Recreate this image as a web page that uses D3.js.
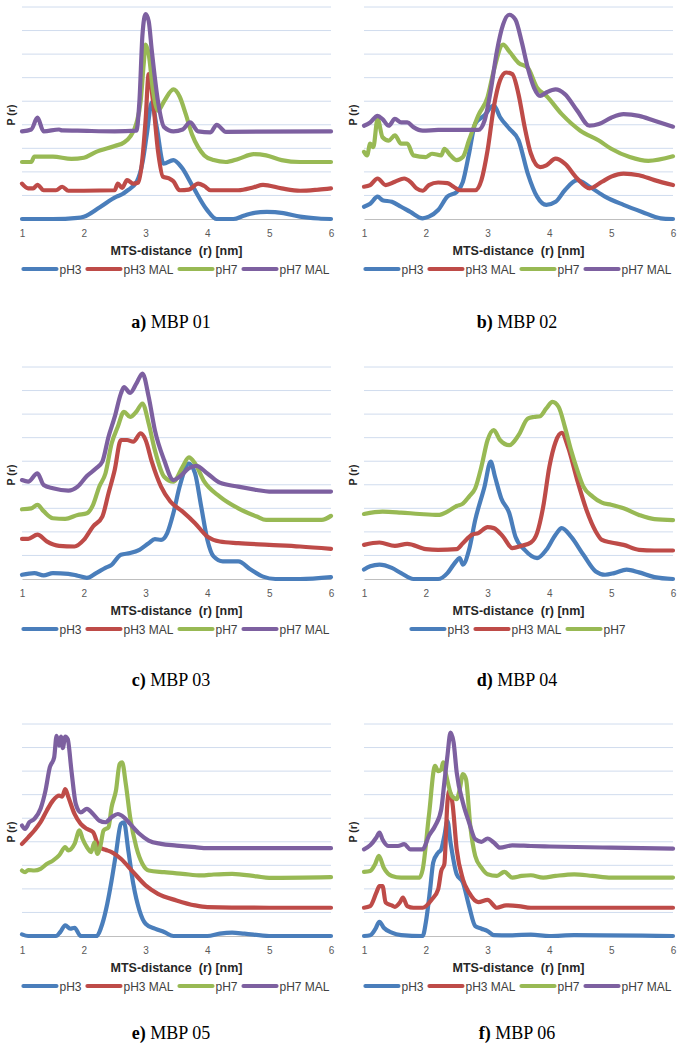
<!DOCTYPE html>
<html>
<head>
<meta charset="utf-8">
<script src="https://cdn.jsdelivr.net/npm/d3@7"></script>
<style>
  body { margin: 0; background: #fff; }
  svg { display: block; font-family: "Liberation Sans", Arial, sans-serif; }
</style>
</head>
<body>
<div id="fig"></div>
<script>
// values, in gridline units (baseline = 0, top gridline = 9)
const seriesNames = ["pH3", "pH3 MAL", "pH7", "pH7 MAL"];
const seriesColors = ["#4A7EBB", "#BE4B48", "#98B954", "#7D60A0"];
const xTicks = [1, 2, 3, 4, 5, 6];
const captions = [["a)", " MBP 01"], ["b)", " MBP 02"], ["c)", " MBP 03"], ["d)", " MBP 04"], ["e)", " MBP 05"], ["f)", " MBP 06"]];

const mbp01_pH3 = [[1,0],[1.5,0],[1.9,0.05],[2.0,0.1],[2.26,0.5],[2.53,0.95],[2.62,1.05],[2.7,1.2],[2.86,1.6],[2.95,2.4],[3.02,3.6],[3.1,4.95],[3.18,3.9],[3.29,2.35],[3.45,2.5],[3.58,2.2],[3.77,1.35],[3.99,0.4],[4.15,0],[4.42,0],[4.6,0.15],[4.74,0.25],[4.96,0.3],[5.23,0.25],[5.5,0.1],[5.8,0.02],[6,0]];
const mbp01_pH3MAL = [[1,1.5],[1.1,1.3],[1.18,1.3],[1.25,1.45],[1.35,1.22],[1.55,1.22],[1.65,1.37],[1.75,1.2],[2.0,1.2],[2.5,1.22],[2.55,1.5],[2.62,1.32],[2.7,1.65],[2.8,1.5],[2.88,1.55],[2.95,2.6],[3.0,4.2],[3.05,6.15],[3.12,5.0],[3.2,2.9],[3.28,1.8],[3.38,1.72],[3.45,1.6],[3.55,1.22],[3.7,1.25],[3.85,1.5],[3.95,1.4],[4.05,1.22],[4.5,1.22],[4.75,1.35],[4.9,1.45],[5.2,1.3],[5.5,1.2],[5.8,1.25],[6,1.3]];
const mbp01_pH7 = [[1,2.42],[1.15,2.42],[1.2,2.65],[1.5,2.65],[1.8,2.55],[2.0,2.6],[2.2,2.85],[2.5,3.1],[2.65,3.25],[2.75,3.5],[2.85,4.05],[2.92,5.0],[2.97,6.6],[3.0,7.4],[3.05,7.0],[3.12,5.45],[3.2,4.6],[3.3,5.0],[3.45,5.5],[3.55,5.2],[3.65,4.45],[3.75,3.6],[3.85,3.05],[3.95,2.7],[4.1,2.5],[4.3,2.42],[4.5,2.55],[4.75,2.75],[4.95,2.7],[5.2,2.5],[5.5,2.42],[6,2.42]];
const mbp01_pH7MAL = [[1,3.72],[1.15,3.8],[1.25,4.3],[1.35,3.72],[1.6,3.8],[1.65,3.76],[1.9,3.75],[2.5,3.72],[2.85,3.75],[2.9,5.0],[2.95,7.85],[3.0,8.7],[3.05,8.4],[3.1,7.15],[3.2,5.0],[3.3,3.9],[3.45,3.72],[3.6,3.8],[3.72,4.1],[3.85,3.72],[4.05,3.68],[4.15,4.0],[4.3,3.7],[6,3.72]];

const mbp02_pH3 = [[1,0.52],[1.1,0.65],[1.22,0.95],[1.3,0.8],[1.45,0.73],[1.6,0.52],[1.75,0.3],[1.95,0.03],[2.05,0.1],[2.2,0.38],[2.35,0.95],[2.5,1.15],[2.6,1.58],[2.7,2.78],[2.8,4.05],[2.95,4.4],[3.1,4.83],[3.2,4.33],[3.35,3.84],[3.5,3.35],[3.65,1.93],[3.8,0.95],[3.95,0.6],[4.1,0.73],[4.25,1.22],[4.45,1.65],[4.65,1.37],[4.9,0.95],[5.2,0.6],[5.5,0.3],[5.8,0.03],[6,0]];
const mbp02_pH3MAL = [[1,1.37],[1.1,1.44],[1.22,1.72],[1.35,1.44],[1.5,1.58],[1.65,1.72],[1.75,1.58],[1.85,1.3],[1.95,1.2],[2.05,1.44],[2.2,1.55],[2.35,1.52],[2.45,1.37],[2.55,1.22],[2.8,1.22],[2.9,1.65],[3.0,2.92],[3.1,4.75],[3.2,5.88],[3.3,6.22],[3.4,6.15],[3.5,5.3],[3.6,3.9],[3.7,2.78],[3.85,2.2],[3.95,2.28],[4.1,2.56],[4.25,2.35],[4.45,1.72],[4.65,1.3],[4.85,1.58],[5.0,1.8],[5.2,1.93],[5.45,1.86],[5.7,1.65],[6,1.44]];
const mbp02_pH7 = [[1,2.85],[1.05,2.7],[1.1,3.2],[1.15,3.05],[1.22,4.25],[1.3,3.47],[1.4,3.33],[1.5,3.55],[1.6,3.2],[1.7,3.2],[1.8,2.7],[2.0,2.63],[2.1,2.77],[2.25,2.7],[2.3,2.98],[2.4,2.7],[2.5,2.5],[2.6,2.63],[2.7,3.35],[2.85,4.4],[3.0,5.18],[3.1,6.3],[3.25,7.4],[3.35,7.12],[3.5,6.63],[3.65,6.42],[3.8,5.58],[3.95,5.23],[4.2,4.45],[4.5,3.75],[4.8,3.33],[5.0,2.98],[5.3,2.63],[5.6,2.47],[6,2.66]];
const mbp02_pH7MAL = [[1,3.96],[1.1,4.1],[1.22,4.38],[1.3,4.24],[1.4,3.96],[1.5,4.25],[1.6,4.1],[1.7,4.1],[1.8,3.9],[1.95,3.75],[2.2,3.78],[2.5,3.78],[2.85,3.78],[2.95,4.17],[3.05,5.45],[3.15,7.12],[3.25,8.25],[3.35,8.67],[3.45,8.46],[3.55,7.54],[3.65,6.42],[3.75,5.58],[3.85,5.23],[3.95,5.37],[4.1,5.5],[4.25,5.3],[4.45,4.6],[4.65,3.96],[4.8,4.03],[5.0,4.3],[5.2,4.45],[5.45,4.38],[5.7,4.17],[6,3.92]];

const mbp03_pH3 = [[1,0.18],[1.2,0.25],[1.35,0.15],[1.5,0.25],[1.75,0.22],[1.9,0.14],[2.05,0.05],[2.2,0.25],[2.35,0.47],[2.45,0.6],[2.6,1.03],[2.75,1.1],[2.9,1.24],[3.05,1.52],[3.15,1.69],[3.25,1.66],[3.35,1.95],[3.45,2.8],[3.55,3.92],[3.7,4.9],[3.8,4.48],[3.9,3.07],[4.0,1.66],[4.1,0.96],[4.25,0.75],[4.5,0.75],[4.7,0.4],[4.9,0.1],[5.1,0],[5.5,0],[6,0.08]];
const mbp03_pH3MAL = [[1,1.7],[1.1,1.7],[1.25,1.88],[1.4,1.6],[1.6,1.41],[1.85,1.38],[2.0,1.66],[2.15,2.23],[2.3,2.65],[2.4,3.64],[2.5,4.63],[2.6,5.9],[2.7,5.9],[2.8,5.83],[2.92,6.18],[3.0,5.9],[3.1,4.98],[3.25,3.92],[3.4,3.29],[3.6,2.86],[3.8,2.37],[4.0,1.8],[4.2,1.59],[4.5,1.52],[5.0,1.45],[5.5,1.38],[6,1.28]];
const mbp03_pH7 = [[1,2.96],[1.15,3.0],[1.25,3.15],[1.35,2.88],[1.5,2.58],[1.7,2.55],[1.9,2.72],[2.05,2.79],[2.15,3.15],[2.25,3.92],[2.35,4.48],[2.45,5.75],[2.55,6.46],[2.65,7.1],[2.75,6.88],[2.85,7.1],[2.95,7.45],[3.05,6.6],[3.15,5.47],[3.3,4.34],[3.45,4.13],[3.6,4.77],[3.7,5.16],[3.8,4.9],[3.95,4.13],[4.2,3.5],[4.5,3.0],[4.8,2.65],[4.95,2.51],[5.5,2.51],[5.85,2.51],[6,2.68]];
const mbp03_pH7MAL = [[1,4.2],[1.1,4.13],[1.25,4.48],[1.35,3.99],[1.5,3.85],[1.75,3.75],[1.9,3.92],[2.05,4.37],[2.2,4.7],[2.3,4.98],[2.4,6.04],[2.5,6.88],[2.6,7.87],[2.65,8.15],[2.75,7.9],[2.85,8.29],[2.95,8.72],[3.05,7.73],[3.15,6.32],[3.3,5.05],[3.45,4.2],[3.55,4.34],[3.7,4.7],[3.82,4.8],[4.0,4.48],[4.2,4.09],[4.5,3.92],[4.8,3.78],[5.0,3.71],[6,3.71]];

const mbp04_pH3 = [[1,0.4],[1.1,0.54],[1.25,0.61],[1.45,0.47],[1.6,0.25],[1.8,0],[2.2,0],[2.35,0.25],[2.45,0.61],[2.55,0.89],[2.6,0.61],[2.7,1.24],[2.8,2.51],[2.95,3.92],[3.05,4.98],[3.12,4.34],[3.22,3.43],[3.35,2.8],[3.45,1.8],[3.6,1.24],[3.8,0.89],[3.95,1.24],[4.1,1.88],[4.2,2.16],[4.35,1.8],[4.55,1.03],[4.75,0.32],[4.9,0.18],[5.05,0.25],[5.25,0.4],[5.45,0.28],[5.7,0.08],[6,0]];
const mbp04_pH3MAL = [[1,1.45],[1.25,1.55],[1.5,1.41],[1.7,1.49],[2.0,1.27],[2.2,1.24],[2.5,1.27],[2.6,1.52],[2.75,1.88],[2.85,1.95],[3.0,2.2],[3.1,2.16],[3.25,1.8],[3.4,1.31],[3.55,1.41],[3.7,1.55],[3.8,1.95],[3.9,3.07],[4.0,4.77],[4.1,5.82],[4.2,6.2],[4.3,5.61],[4.45,4.2],[4.6,2.93],[4.75,2.02],[4.85,1.66],[5.0,1.55],[5.2,1.45],[5.45,1.24],[5.7,1.21],[6,1.21]];
const mbp04_pH7 = [[1,2.76],[1.3,2.86],[1.6,2.82],[1.9,2.76],[2.2,2.72],[2.35,2.86],[2.5,3.1],[2.6,3.2],[2.7,3.5],[2.8,3.85],[2.9,4.77],[3.0,5.9],[3.1,6.32],[3.2,5.9],[3.35,5.68],[3.5,6.1],[3.65,6.81],[3.75,6.88],[3.85,6.91],[3.95,7.24],[4.05,7.52],[4.15,7.3],[4.25,6.46],[4.35,5.47],[4.45,4.63],[4.55,3.92],[4.7,3.5],[4.85,3.24],[5.0,3.15],[5.2,3.0],[5.45,2.72],[5.7,2.54],[6,2.5]];

const mbp05_pH3 = [[1,0.07],[1.1,0],[1.55,0],[1.62,0.17],[1.7,0.45],[1.78,0.31],[1.85,0.35],[1.95,0],[2.2,0],[2.3,0.52],[2.38,1.37],[2.45,2.36],[2.52,3.49],[2.6,4.76],[2.65,4.83],[2.72,3.63],[2.8,2.22],[2.9,1.09],[3.0,0.52],[3.15,0.31],[3.3,0.17],[3.45,0],[4.0,0],[4.2,0.1],[4.4,0.14],[4.6,0.1],[5.0,0],[6,0]];
const mbp05_pH3MAL = [[1,3.91],[1.1,4.19],[1.2,4.48],[1.3,4.83],[1.4,5.32],[1.5,5.75],[1.6,5.96],[1.65,5.92],[1.7,6.24],[1.75,5.9],[1.85,5.18],[1.95,4.76],[2.05,4.55],[2.15,4.41],[2.25,3.77],[2.35,3.66],[2.45,3.56],[2.6,3.28],[2.8,2.71],[3.0,2.15],[3.2,1.79],[3.5,1.51],[3.8,1.3],[4.0,1.23],[5.0,1.2],[6,1.2]];
const mbp05_pH7 = [[1,2.78],[1.05,2.71],[1.1,2.8],[1.2,2.78],[1.3,2.85],[1.4,3.06],[1.5,3.2],[1.6,3.42],[1.7,3.77],[1.75,3.63],[1.85,3.91],[1.93,4.48],[1.98,4.13],[2.05,3.77],[2.12,3.56],[2.17,3.98],[2.22,3.49],[2.27,3.84],[2.32,4.48],[2.4,4.62],[2.45,5.47],[2.52,6.17],[2.58,7.3],[2.62,7.37],[2.68,6.45],[2.75,5.04],[2.85,3.77],[2.95,3.06],[3.05,2.78],[3.3,2.71],[3.6,2.64],[3.9,2.57],[4.1,2.61],[4.4,2.64],[4.8,2.53],[5.0,2.47],[6,2.5]];
const mbp05_pH7MAL = [[1,4.69],[1.05,4.55],[1.12,4.83],[1.2,4.97],[1.3,5.4],[1.38,6.17],[1.45,7.16],[1.52,7.58],[1.56,8.5],[1.6,8.08],[1.63,8.47],[1.66,7.98],[1.7,8.47],[1.74,8.36],[1.8,7.02],[1.87,5.61],[1.95,5.25],[2.05,5.4],[2.15,5.18],[2.25,4.9],[2.35,4.83],[2.45,5.04],[2.55,5.18],[2.65,5.04],[2.75,4.76],[2.9,4.34],[3.05,4.05],[3.25,3.91],[3.5,3.84],[3.8,3.77],[4.0,3.73],[6,3.73]];

const mbp06_pH3 = [[1,0],[1.1,0.03],[1.18,0.28],[1.25,0.6],[1.32,0.35],[1.45,0.14],[1.6,0.04],[1.95,0],[2.0,0.57],[2.07,1.98],[2.12,3.12],[2.2,3.54],[2.25,3.68],[2.3,4.25],[2.35,4.89],[2.4,3.97],[2.5,2.62],[2.6,2.27],[2.7,1.27],[2.8,0.42],[2.9,0.31],[3.0,0.21],[3.1,0.04],[3.4,0.03],[3.7,0.06],[4.0,0],[4.4,0.04],[6,0]];
const mbp06_pH3MAL = [[1,1.2],[1.1,1.27],[1.2,1.84],[1.25,2.12],[1.3,2.12],[1.35,1.42],[1.45,1.3],[1.5,1.24],[1.58,1.42],[1.63,1.63],[1.7,1.27],[1.8,1.2],[1.95,1.2],[2.1,1.56],[2.2,1.98],[2.25,2.76],[2.3,3.05],[2.35,5.67],[2.38,6.16],[2.43,5.67],[2.5,3.68],[2.6,2.41],[2.7,1.84],[2.85,1.44],[3.0,1.53],[3.15,1.2],[3.3,1.3],[3.5,1.27],[3.7,1.2],[6,1.2]];
const mbp06_pH7 = [[1,2.72],[1.1,2.76],[1.18,3.05],[1.24,3.4],[1.32,2.9],[1.45,2.55],[1.6,2.48],[1.9,2.48],[1.95,2.83],[2.05,5.1],[2.15,7.22],[2.2,7.0],[2.25,7.07],[2.28,7.37],[2.32,6.94],[2.42,5.95],[2.5,5.81],[2.55,6.23],[2.6,6.87],[2.65,6.66],[2.72,4.67],[2.8,3.4],[2.9,2.9],[3.0,2.62],[3.15,2.55],[3.27,2.72],[3.4,2.48],[3.55,2.55],[3.7,2.58],[3.9,2.48],[4.1,2.55],[4.4,2.62],[4.7,2.55],[5.0,2.48],[6,2.48]];
const mbp06_pH7MAL = [[1,3.68],[1.1,3.85],[1.2,4.18],[1.25,4.39],[1.3,4.1],[1.4,3.82],[1.55,3.82],[1.65,3.9],[1.75,3.68],[1.95,3.68],[2.05,4.25],[2.15,4.67],[2.25,5.38],[2.3,6.52],[2.35,7.65],[2.4,8.64],[2.45,8.22],[2.5,6.94],[2.6,5.67],[2.7,4.82],[2.8,4.11],[2.9,4.0],[3.0,4.14],[3.1,3.97],[3.2,3.75],[3.4,3.85],[3.7,3.82],[4.0,3.8],[5.0,3.75],[6,3.71]];

const panelSeries = [
  [mbp01_pH3, mbp01_pH3MAL, mbp01_pH7, mbp01_pH7MAL],
  [mbp02_pH3, mbp02_pH3MAL, mbp02_pH7, mbp02_pH7MAL],
  [mbp03_pH3, mbp03_pH3MAL, mbp03_pH7, mbp03_pH7MAL],
  [mbp04_pH3, mbp04_pH3MAL, mbp04_pH7],
  [mbp05_pH3, mbp05_pH3MAL, mbp05_pH7, mbp05_pH7MAL],
  [mbp06_pH3, mbp06_pH3MAL, mbp06_pH7, mbp06_pH7MAL]
];

const width = 683, height = 1050;
const colLeft = [22, 364];
const plotW = 309, plotH = 212;
const rowBase = [219, 579, 936];
const captionY = [328, 686, 1039];
const captionX = [171, 517];

const svg = d3.select("#fig").append("svg")
    .attr("width", width)
    .attr("height", height);

panelSeries.forEach((series, i) => {
  const col = i % 2, row = Math.floor(i / 2);
  const left = colLeft[col], base = rowBase[row];

  const x = d3.scaleLinear().domain([1, 6]).range([left, left + plotW]);
  const y = d3.scaleLinear().domain([0, 9]).range([base, base - plotH]);

  const g = svg.append("g");

  // horizontal gridlines
  g.selectAll(".grid")
    .data(d3.range(1, 10))
    .enter().append("line")
    .attr("x1", left).attr("x2", left + plotW)
    .attr("y1", d => y(d)).attr("y2", d => y(d))
    .attr("stroke", "#d0dcee")
    .attr("stroke-width", 1);

  // x axis
  const ax = g.append("g")
    .attr("transform", `translate(0,${base})`)
    .call(d3.axisBottom(x).tickValues(xTicks).tickSize(0).tickPadding(11).tickFormat(d3.format("d")));
  ax.select(".domain").attr("stroke", "#bfbfbf").attr("stroke-width", 1);
  ax.selectAll("text")
    .attr("fill", "#595959")
    .style("font-size", "10px")
    .style("font-family", "'Liberation Sans', Arial, sans-serif");

  // axis titles
  g.append("text")
    .attr("x", left + plotW / 2)
    .attr("y", base + 35.5)
    .attr("text-anchor", "middle")
    .attr("fill", "#262626")
    .style("font-size", "12.5px")
    .style("font-weight", "bold")
    .style("white-space", "pre")
    .text("MTS-distance  (r) [nm]");

  g.append("text")
    .attr("transform", `translate(${left - 7},${base - plotH / 2 + 2}) rotate(-90)`)
    .attr("text-anchor", "middle")
    .attr("fill", "#262626")
    .style("font-size", "10.5px")
    .style("font-weight", "bold")
    .style("white-space", "pre")
    .text("P (r)");

  // curves
  const line = d3.line()
    .x(d => x(d[0]))
    .y(d => y(d[1]))
    .curve(d3.curveMonotoneX);

  series.forEach((s, k) => {
    g.append("path")
      .datum(s)
      .attr("d", line)
      .attr("fill", "none")
      .attr("stroke", seriesColors[k])
      .attr("stroke-width", 4.2)
      .attr("stroke-linejoin", "round")
      .attr("stroke-linecap", "round");
  });

  // legend, centered under the plot
  const leg = g.append("g");
  let cx = 0;
  series.forEach((s, k) => {
    const item = leg.append("g").attr("transform", `translate(${cx},0)`);
    item.append("line")
      .attr("x1", 0).attr("x2", 33)
      .attr("y1", 0).attr("y2", 0)
      .attr("stroke", seriesColors[k])
      .attr("stroke-width", 4.2)
      .attr("stroke-linecap", "round");
    const t = item.append("text")
      .attr("x", 36)
      .attr("y", 4.5)
      .attr("fill", "#404040")
      .style("font-size", "12px")
      .text(seriesNames[k]);
    cx += 36 + t.node().getComputedTextLength() + 6;
  });
  const legW = cx - 6;
  leg.attr("transform", `translate(${left + plotW / 2 - legW / 2},${base + 50})`);

  // caption
  const cap = svg.append("text")
    .attr("x", captionX[col])
    .attr("y", captionY[row])
    .attr("text-anchor", "middle")
    .attr("fill", "#000")
    .style("font-family", "'Liberation Serif', 'Times New Roman', serif")
    .style("font-size", "18px")
    .style("white-space", "pre");
  cap.append("tspan").style("font-weight", "bold").text(captions[i][0]);
  cap.append("tspan").text(captions[i][1]);
});
</script>
</body>
</html>
